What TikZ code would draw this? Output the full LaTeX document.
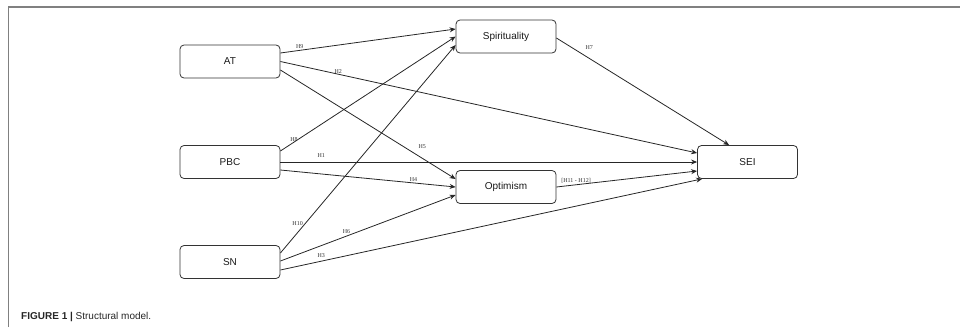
\documentclass[tikz,border=0pt]{standalone}
\usepackage{fontspec}
\setmainfont{Liberation Sans}
\newfontfamily\lblfont{Liberation Serif}
\usetikzlibrary{arrows.meta,calc}
\begin{document}
\begin{tikzpicture}[x=1pt,y=-1pt,
  box/.style={draw=black!80,line width=0.8pt,rounded corners=4pt,minimum width=100pt,minimum height=33pt,inner sep=0pt,font=\fontsize{10}{12}\selectfont,text=black!90},
  conn/.style={draw=black!85,line width=0.8pt,-{Stealth[length=6pt,width=5pt]}},
  lbl/.style={font=\lblfont\fontsize{6}{7}\selectfont,inner sep=0pt,text=black!80},
  frame/.style={draw=black!50,line width=1.6pt}]
\useasboundingbox (0,0) rectangle (960,327);
\draw[frame] (8.5,327) -- (8.5,7) -- (960,7);
\node[box] (AT) at (230,61.5) {AT};
\node[box] (PBC) at (230,162) {PBC};
\node[box] (SN) at (230,262) {SN};
\node[box] (SP) at (506,36.5) {Spirituality};
\node[box] (OP) at (506,187) {Optimism};
\node[box] (SEI) at (747.5,162) {SEI};
% AT
\draw[conn] ([yshift=8.5]AT.east) -- node[lbl,pos=0.11,yshift=3.5] (l9) {H9} ([yshift=7.5]SP.west);
\draw[conn] (AT.east) -- node[lbl,pos=0.139,yshift=2.8] (l2) {H2} ([yshift=9]SEI.west);
\draw[conn] ([yshift=-8.5]AT.east) -- node[lbl,pos=0.81,yshift=11.5] (l5) {H5} ([yshift=8]OP.west);
% PBC
\draw[conn] ([yshift=11]PBC.east) -- node[lbl,pos=0.1,xshift=-4] (l8) {H8} (SP.west);
\draw[conn] (PBC.east) -- node[lbl,pos=0.098,yshift=6] (l1) {H1} (SEI.west);
\draw[conn] ([yshift=-8]PBC.east) -- node[lbl,pos=0.76,yshift=3] (l4) {H4} (OP.west);
% SN
\draw[conn] ([yshift=9]SN.east) -- node[lbl,pos=0.144,xshift=-8] (l10) {H10} ([yshift=-8.5]SP.west);
\draw[conn] ([yshift=1]SN.east) -- node[lbl,pos=0.377,yshift=5] (l6) {H6} ([yshift=-8]OP.west);
\draw[conn] ([yshift=-8]SN.east) -- node[lbl,pos=0.097,yshift=6] (l3) {H3} ([xshift=5]SEI.south west);
% mediators
\draw[conn] ([yshift=-1.5]SP.east) -- node[lbl,pos=0.19,yshift=11] (l7) {H7} ([xshift=32]SEI.north west);
\draw[conn] (OP.east) -- node[lbl,pos=0.14,yshift=4] (l11) {[H11 - H12]} ([yshift=-9]SEI.west);
\node[anchor=base west,inner sep=0pt,font=\fontsize{10}{12}\selectfont,text=black!85] (cap) at (21,319) {\textbf{FIGURE 1} \textbf{|} Structural model.};
\end{tikzpicture}
\end{document}
